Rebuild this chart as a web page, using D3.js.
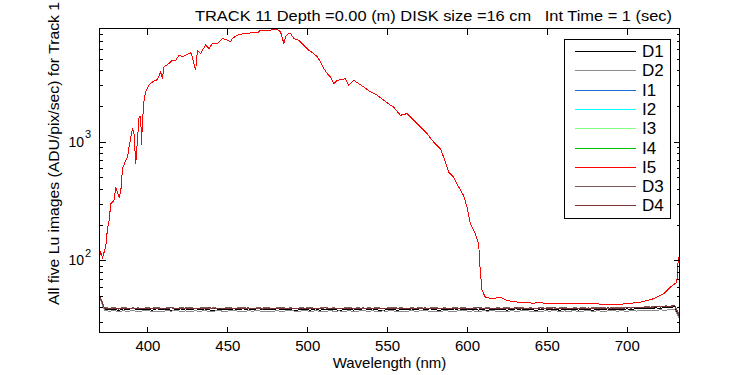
<!DOCTYPE html>
<html>
<head>
<meta charset="utf-8">
<script src="https://cdn.jsdelivr.net/npm/d3@7"></script>
<style>
  body { margin: 0; background: #fff; }
  svg { display: block; font-family: "Liberation Sans Narrow", "Liberation Sans", Arial, sans-serif; }
  .tick line { stroke: #000; shape-rendering: crispEdges; }
  .trace { fill: none; stroke-width: 1; shape-rendering: crispEdges; }
</style>
</head>
<body>
<svg id="chart" width="750" height="375"></svg>
<script>
// ---- data ----
const titleText = "TRACK 11 Depth =0.00 (m) DISK size =16 cm   Int Time = 1 (sec)";
const xLabel = "Wavelength (nm)";
const yLabel = "All five Lu images (ADU/pix/sec) for Track 1";

const xDomain = [370, 733];
const yDomain = [24.6, 8988];
const xTicks = [400, 450, 500, 550, 600, 650, 700];
const yMajor = [100, 1000];

const seriesNames = ["D1", "D2", "I1", "I2", "I3", "I4", "I5", "D3", "D4"];
const seriesColors = ["#000000", "#8c8c8c", "#1a6fd6", "#00ffff", "#80ff80", "#00c000", "#ff0000", "#7f5a5a", "#7a3636"];

// lamp spectrum (I1..I5 overlap in the picture)
const specWl = [370.2, 370.8, 371.9, 373.9, 375.0, 376.0, 377.1, 379.1, 380.2, 382.3, 383.3, 384.4, 386.4, 387.5, 388.5,
  389.6, 390.6, 391.6, 392.7, 393.3, 394.8, 395.8, 396.3, 396.9, 397.9, 398.9, 401.0, 403.1, 405.2, 406.3, 408.3, 409.4,
  410.4, 413.5, 415.6, 417.7, 419.8, 421.9, 423.9, 427.1, 428.1, 430.2, 431.3, 433.3, 434.4, 436.4, 438.5, 440.6, 443.8,
  446.9, 450.0, 452.1, 453.1, 456.3, 460.4, 464.6, 468.8, 470.8, 475.0, 481.3, 483.3, 485.4, 486.4, 488.5, 489.6, 491.6,
  494.8, 496.9, 499.0, 501.0, 504.1, 506.3, 508.3, 510.4, 512.5, 514.6, 516.6, 518.8, 521.9, 523.9, 526.0, 529.1, 532.3,
  535.4, 539.6, 543.8, 547.9, 552.1, 554.1, 558.3, 562.5, 566.6, 570.8, 575.0, 579.1, 583.3, 585.4, 588.5, 591.6, 594.8,
  597.9, 600.0, 602.1, 605.2, 607.3, 608.3, 609.4, 611.4, 615.6, 620.8, 625.0, 630.0, 633.3, 637.0, 641.7, 645.0, 650.0,
  654.1, 660.0, 666.6, 672.0, 679.1, 685.0, 691.6, 695.0, 700.0, 708.3, 716.6, 722.9, 727.1, 731.3, 732.3, 733.0];
const specVal = [110, 117, 106, 129, 185, 217, 300, 320, 414, 340, 376, 591, 695, 741, 900,
  1094, 1287, 1167, 652, 844, 1614, 1614, 933, 1514, 2230, 2625, 2989, 3186, 3288, 3335, 3866, 3407,
  4266, 4553, 4857, 4857, 5350, 5180, 5350, 5600, 5180, 3990, 5890, 5530, 5890, 6500, 6100, 6710, 6710,
  7390, 7160, 6920, 7390, 7890, 8150, 8240, 8240, 8690, 8690, 8810, 8420, 6710, 7640, 8240, 8150, 7390,
  7160, 6710, 6280, 5890, 5530, 5180, 4700, 4130, 3750, 3510, 3080, 3290, 3335, 3400, 2990, 3290, 3080,
  2890, 2625, 2460, 2233, 2025, 1958, 1667, 1722, 1514, 1329, 1167, 993, 873, 741, 554, 502, 414,
  352, 281, 203, 167, 138, 82, 56, 49, 47.3, 49, 45.8, 44.6, 44.3, 43.8, 43.5, 44.0, 43.2,
  43.5, 43.6, 43.5, 43.0, 43.0, 42.6, 42.4, 42.5, 43, 44.3, 47.3, 52, 59, 65, 106, 100];

// dark frames, sampled every 3 nm from 370 to 733
const darkWl = d3.range(370, 734, 3);
const darkD1 = [50, 39.0, 38.2, 38.6, 37.8, 38.9, 38.3, 37.6, 38.8, 38.1,
  38.5, 37.9, 39.0, 38.2, 38.7, 37.7, 38.4, 38.9, 38.0, 38.6,
  37.8, 38.5, 38.9, 38.1, 37.6, 38.7, 38.3, 38.8, 37.9, 38.4,
  38.9, 38.0, 38.5, 37.7, 38.6, 38.2, 38.9, 37.8, 38.4, 38.7,
  38.1, 37.6, 38.8, 38.3, 38.0, 38.9, 37.9, 38.5, 38.2, 38.7,
  37.7, 38.4, 38.8, 38.0, 38.6, 37.8, 38.3, 38.9, 38.1, 37.6,
  38.5, 38.8, 37.9, 38.3, 38.7, 38.0, 38.6, 37.7, 38.4, 38.9,
  38.2, 37.8, 38.6, 38.3, 38.9, 37.9, 38.5, 38.1, 38.7, 38.0,
  38.4, 37.7, 38.8, 38.2, 38.6, 37.9, 38.5, 38.9, 38.0, 38.3,
  38.7, 37.8, 38.4, 38.9, 38.1, 38.6, 37.9, 38.5, 38.2, 38.8,
  38.0, 38.6, 38.3, 37.9, 38.7, 38.4, 38.9, 38.1, 38.6, 38.3,
  38.9, 38.5, 39.2, 38.8, 39.4, 39.1, 39.7, 39.3, 40.0, 39.8,
  40.6, 33];
const darkD2 = [49, 38.0, 37.2, 37.6, 36.9, 37.5, 37.1, 37.8, 36.8, 37.4,
  37.7, 37.0, 37.3, 36.8, 37.6, 37.2, 37.9, 37.0, 37.4, 36.9,
  37.5, 37.1, 37.8, 36.9, 37.3, 37.6, 37.0, 37.4, 37.8, 37.1,
  36.8, 37.5, 37.2, 37.7, 37.0, 37.3, 36.9, 37.6, 37.1, 37.4,
  37.8, 36.9, 37.3, 37.6, 37.0, 37.5, 37.2, 36.8, 37.7, 37.1,
  37.4, 37.0, 37.6, 36.9, 37.3, 37.8, 37.1, 37.5, 36.8, 37.4,
  37.2, 37.7, 37.0, 37.3, 36.9, 37.6, 37.1, 37.5, 37.8, 37.0,
  37.3, 36.9, 37.6, 37.2, 37.0, 37.5, 37.8, 37.1, 37.4, 36.8,
  37.5, 37.2, 37.7, 37.0, 37.3, 36.9, 37.6, 37.1, 37.4, 37.8,
  37.0, 37.3, 36.8, 37.5, 37.2, 37.7, 37.0, 37.4, 37.1, 37.6,
  36.9, 37.3, 37.6, 37.1, 37.5, 37.0, 37.4, 37.8, 37.2, 37.5,
  37.1, 37.6, 37.3, 37.8, 37.5, 38.0, 37.7, 38.2, 37.9, 38.4,
  38.6, 32];
const darkD3 = [51, 40.0, 39.4, 39.8, 39.2, 39.9, 39.5, 39.1, 39.7, 39.3,
  39.8, 39.4, 40.1, 39.2, 39.6, 39.9, 39.3, 39.7, 39.5, 40.0,
  39.2, 39.6, 39.9, 39.4, 39.8, 39.1, 39.5, 40.0, 39.3, 39.7,
  39.9, 39.4, 39.2, 39.8, 39.5, 40.1, 39.3, 39.6, 39.9, 39.4,
  39.7, 39.2, 39.8, 39.5, 40.0, 39.3, 39.6, 39.9, 39.4, 39.7,
  39.1, 39.6, 40.0, 39.4, 39.8, 39.2, 39.7, 39.5, 39.9, 39.3,
  39.6, 40.1, 39.4, 39.8, 39.2, 39.7, 39.5, 39.9, 39.3, 39.6,
  40.0, 39.4, 39.7, 39.2, 39.8, 39.5, 39.9, 39.3, 39.6, 40.1,
  39.4, 39.8, 39.2, 39.7, 39.5, 40.0, 39.3, 39.6, 39.9, 39.4,
  39.7, 39.3, 39.8, 39.5, 40.1, 39.4, 39.6, 39.9, 39.2, 39.7,
  39.5, 39.9, 39.3, 39.8, 39.6, 40.0, 39.4, 39.7, 39.9, 39.6,
  40.1, 39.8, 40.3, 40.0, 40.6, 40.3, 40.9, 40.6, 41.2, 41.0,
  41.8, 34];
const darkD4 = [50, 39.6, 39.0, 39.5, 38.8, 39.4, 39.1, 39.7, 38.9, 39.3,
  39.0, 39.6, 38.9, 39.4, 39.2, 39.7, 38.8, 39.3, 39.6, 39.1,
  39.5, 38.9, 39.3, 39.7, 39.0, 39.4, 39.6, 38.9, 39.2, 39.5,
  39.1, 39.7, 39.0, 39.4, 38.8, 39.3, 39.6, 39.1, 39.5, 38.9,
  39.4, 39.0, 39.6, 39.2, 38.9, 39.5, 39.1, 39.7, 39.0, 39.3,
  39.6, 39.1, 38.9, 39.4, 39.2, 39.7, 39.0, 39.3, 39.5, 38.9,
  39.3, 39.0, 39.6, 39.1, 39.4, 38.8, 39.5, 39.2, 39.7, 39.0,
  39.4, 39.1, 39.5, 38.9, 39.3, 39.6, 39.0, 39.4, 39.2, 39.7,
  39.0, 39.5, 39.2, 38.9, 39.6, 39.1, 39.4, 39.7, 39.0, 39.3,
  39.5, 39.1, 39.6, 39.0, 39.3, 39.7, 39.2, 38.9, 39.5, 39.1,
  39.4, 39.0, 39.6, 39.2, 39.5, 39.1, 39.7, 39.3, 39.6, 39.2,
  39.8, 39.5, 40.0, 39.7, 40.3, 40.0, 40.6, 40.3, 40.9, 40.7,
  41.5, 33];

// ---- layout ----
const svg = d3.select("#chart");
const plotL = 99.5, plotR = 679.5, plotT = 28.5, plotB = 332.5;

const x = d3.scaleLinear().domain(xDomain).range([plotL, plotR]);
const y = d3.scaleLog().domain(yDomain).range([plotB, plotT]);
const yMinor = y.ticks().filter(d => !yMajor.includes(d));

const zip = (xs, ys) => xs.map((w, i) => [w, ys[i]]);
const traces = [
  zip(darkWl, darkD1), zip(darkWl, darkD2),
  zip(specWl, specVal), zip(specWl, specVal), zip(specWl, specVal), zip(specWl, specVal), zip(specWl, specVal),
  zip(darkWl, darkD3), zip(darkWl, darkD4)
];

svg.append("defs").append("clipPath").attr("id", "plotclip")
  .append("rect").attr("x", plotL).attr("y", plotT).attr("width", plotR - plotL).attr("height", plotB - plotT);

const line = d3.line().x(d => x(d[0])).y(d => y(d[1]));

svg.append("g").attr("clip-path", "url(#plotclip)")
  .selectAll("path")
  .data(traces)
  .enter()
  .append("path")
  .attr("class", "trace")
  .attr("stroke", (d, i) => seriesColors[i])
  .attr("d", line);

// axes, ticks point inward like the original
const noLabel = () => "";
const strip = g => g.select(".domain").remove();

svg.append("g").attr("transform", `translate(0,${plotB})`)
  .call(d3.axisBottom(x).tickValues(xTicks).tickSize(-6).tickPadding(8).tickFormat(d3.format("d")))
  .call(strip)
  .call(g => g.selectAll("text").attr("font-size", 15).attr("fill", "#000"))
  .attr("font-family", null);

svg.append("g").attr("transform", `translate(0,${plotT})`)
  .call(d3.axisTop(x).tickValues(xTicks).tickSize(-6).tickFormat(noLabel))
  .call(strip);

svg.append("g").attr("transform", `translate(${plotL},0)`)
  .call(d3.axisLeft(y).tickValues(yMinor).tickSize(-3).tickFormat(noLabel)).call(strip);
svg.append("g").attr("transform", `translate(${plotL},0)`)
  .call(d3.axisLeft(y).tickValues(yMajor).tickSize(-6).tickFormat(noLabel)).call(strip);
svg.append("g").attr("transform", `translate(${plotR},0)`)
  .call(d3.axisRight(y).tickValues(yMinor).tickSize(-3).tickFormat(noLabel)).call(strip);
svg.append("g").attr("transform", `translate(${plotR},0)`)
  .call(d3.axisRight(y).tickValues(yMajor).tickSize(-6).tickFormat(noLabel)).call(strip);

svg.append("rect")
  .attr("x", plotL).attr("y", plotT).attr("width", plotR - plotL).attr("height", plotB - plotT)
  .attr("fill", "none").attr("stroke", "#000").attr("shape-rendering", "crispEdges");

// power-of-ten labels
yMajor.forEach(v => {
  const yy = y(v);
  svg.append("text").attr("x", 84).attr("y", yy + 5).attr("text-anchor", "end")
    .attr("font-size", 14).text("10");
  svg.append("text").attr("x", 85).attr("y", yy - 3.5)
    .attr("font-size", 11).text(Math.round(Math.log10(v)));
});

// titles
svg.append("text").attr("x", 195).attr("y", 21).attr("font-size", 15)
  .attr("textLength", 477).attr("lengthAdjust", "spacingAndGlyphs")
  .style("white-space", "pre").text(titleText);
svg.append("text").attr("x", (plotL + plotR) / 2).attr("y", 368).attr("text-anchor", "middle")
  .attr("font-size", 15).text(xLabel);
svg.append("text").attr("transform", "translate(59,305) rotate(-90)")
  .attr("font-size", 15).attr("textLength", 303).attr("lengthAdjust", "spacingAndGlyphs")
  .text(yLabel);

// legend
const legend = svg.append("g");
legend.append("rect").attr("x", 564.5).attr("y", 39.5).attr("width", 106).attr("height", 179)
  .attr("fill", "#fff").attr("stroke", "#000").attr("shape-rendering", "crispEdges");
seriesNames.forEach((name, i) => {
  const ly = 51 + i * 19.3;
  legend.append("line").attr("x1", 575).attr("x2", 636).attr("y1", Math.round(ly) + 0.5).attr("y2", Math.round(ly) + 0.5)
    .attr("stroke", seriesColors[i]).attr("shape-rendering", "crispEdges");
  legend.append("text").attr("x", 642).attr("y", ly + 6).attr("font-size", 17).text(name);
});
</script>
</body>
</html>
